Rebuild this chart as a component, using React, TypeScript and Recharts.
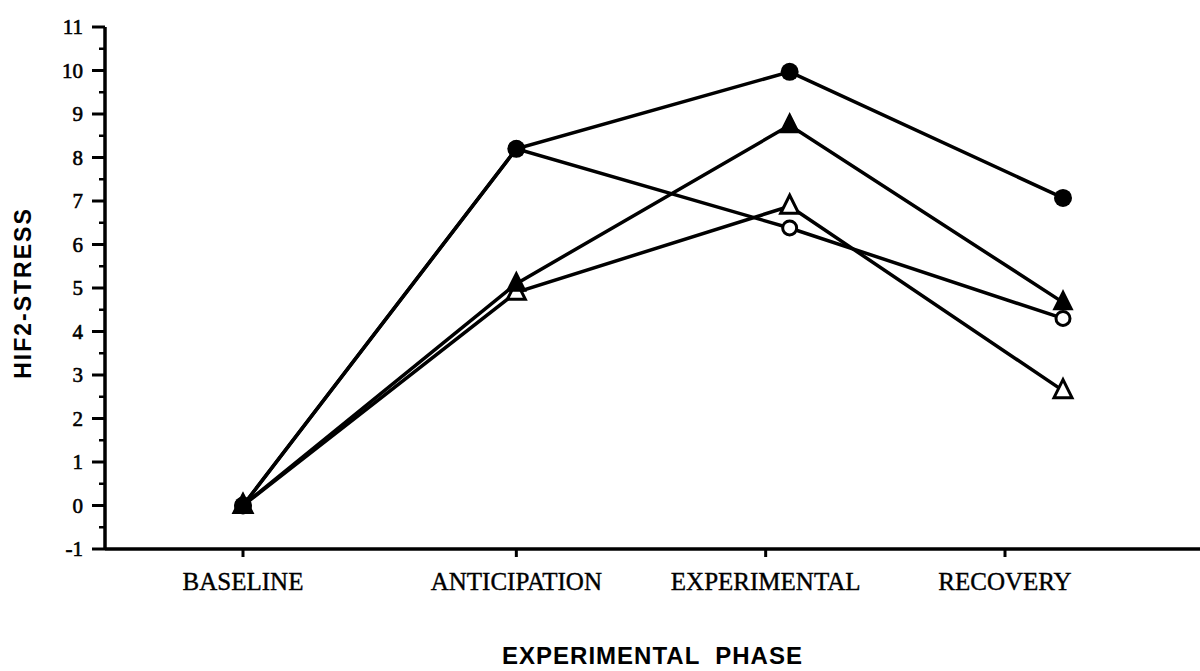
import { LineChart, Line, XAxis, YAxis, Label } from 'recharts';

const phases = ['BASELINE', 'ANTICIPATION', 'EXPERIMENTAL', 'RECOVERY'];

// four groups
const filledCircle = [0, 8.2, 9.97, 7.07];
const openCircle = [0, 8.2, 6.38, 4.3];
const filledTriangle = [0, 5.1, 8.74, 4.67];
const openTriangle = [0, 4.9, 6.88, 2.64];

const yTicks = [
  -1, -0.5, 0, 0.5, 1, 1.5, 2, 2.5, 3, 3.5, 4, 4.5, 5, 5.5,
  6, 6.5, 7, 7.5, 8, 8.5, 9, 9.5, 10, 10.5, 11,
];

// the original's category labels sit a bit off the data columns
const labelShift = [0, 0, -24, -58];

const data = phases.map((phase, i) => ({
  phase,
  fc: filledCircle[i],
  oc: openCircle[i],
  ft: filledTriangle[i],
  ot: openTriangle[i],
}));

const serif = '"Liberation Serif", "DejaVu Serif", serif';
const sans = '"Liberation Sans", Arial, sans-serif';

const YTick = (props: any) => {
  const { x, y, payload } = props;
  const v = payload.value;
  const major = Number.isInteger(v);
  return (
    <g>
      <line x1={x - (major ? 13 : 6)} x2={x} y1={y} y2={y} stroke="#000" strokeWidth={major ? 3 : 2.5} />
      {major && (
        <text
          x={x - 22}
          y={y + 7}
          textAnchor="end"
          fontFamily={serif}
          fontSize={21}
          fill="#000"
          stroke="#000"
          strokeWidth={0.6}
        >
          {v}
        </text>
      )}
    </g>
  );
};

const XTick = (props: any) => {
  const { x, y, payload, index } = props;
  const px = x + (labelShift[index] ?? 0);
  return (
    <g>
      <line x1={px} x2={px} y1={y} y2={y + 8} stroke="#000" strokeWidth={3} />
      <text
        x={px}
        y={y + 41}
        textAnchor="middle"
        fontFamily={serif}
        fontSize={25}
        fill="#000"
        stroke="#000"
        strokeWidth={0.4}
      >
        {payload.value}
      </text>
    </g>
  );
};

const Dot = ({ cx, cy, kind }: any) => {
  if (cx == null || cy == null) return <g />;
  if (kind === 'fc') return <circle cx={cx} cy={cy} r={9} fill="#000" />;
  if (kind === 'oc') return <circle cx={cx} cy={cy} r={7} fill="#fff" stroke="#000" strokeWidth={3} />;
  const pts = `${cx},${cy - 11} ${cx - 9},${cy + 7} ${cx + 9},${cy + 7}`;
  if (kind === 'ft') return <polygon points={pts} fill="#000" stroke="#000" strokeWidth={2} />;
  return <polygon points={pts} fill="#fff" stroke="#000" strokeWidth={3} strokeLinejoin="miter" />;
};

const series = ['ot', 'ft', 'oc', 'fc'];

export default function App() {
  return (
    <div style={{ position: 'absolute', left: 0, top: 0, width: 1200, height: 671, background: '#fff' }}>
      <LineChart width={1200} height={671} data={data} margin={{ top: 27, right: 0, left: 0, bottom: 0 }}>
        <XAxis
          dataKey="phase"
          height={122}
          padding={{ left: 138, right: 137 }}
          axisLine={{ stroke: '#000', strokeWidth: 3.5 }}
          tickLine={false}
          tickSize={0}
          tickMargin={0}
          interval={0}
          tick={<XTick />}
        >
          <Label
            content={(p: any) => (
              <text
                x={p.viewBox.x + p.viewBox.width / 2}
                y={664}
                textAnchor="middle"
                fontFamily={sans}
                fontWeight="bold"
                fontSize={24}
                letterSpacing={1}
                fill="#000"
                style={{ whiteSpace: 'pre' }}
              >
                {'EXPERIMENTAL  PHASE'}
              </text>
            )}
          />
        </XAxis>
        <YAxis
          width={105}
          domain={[-1, 11]}
          ticks={yTicks}
          interval={0}
          type="number"
          allowDataOverflow
          axisLine={{ stroke: '#000', strokeWidth: 3.5 }}
          tickLine={false}
          tickSize={0}
          tickMargin={0}
          tick={<YTick />}
        >
          <Label
            content={() => {
              const cy = 293;
              const cx = 31;
              return (
                <text
                  x={cx}
                  y={cy}
                  transform={`rotate(-90, ${cx}, ${cy})`}
                  textAnchor="middle"
                  fontFamily={sans}
                  fontWeight="bold"
                  fontSize={23}
                  letterSpacing={2}
                  fill="#000"
                >
                  HIF2-STRESS
                </text>
              );
            }}
          />
        </YAxis>
        {series.map((k) => (
          <Line
            key={k}
            type="linear"
            dataKey={k}
            stroke="#000"
            strokeWidth={3.5}
            isAnimationActive={false}
            dot={(p: any) => <Dot key={`${k}-${p.index}`} cx={p.cx} cy={p.cy} kind={k} />}
            activeDot={false}
          />
        ))}
      </LineChart>
    </div>
  );
}
